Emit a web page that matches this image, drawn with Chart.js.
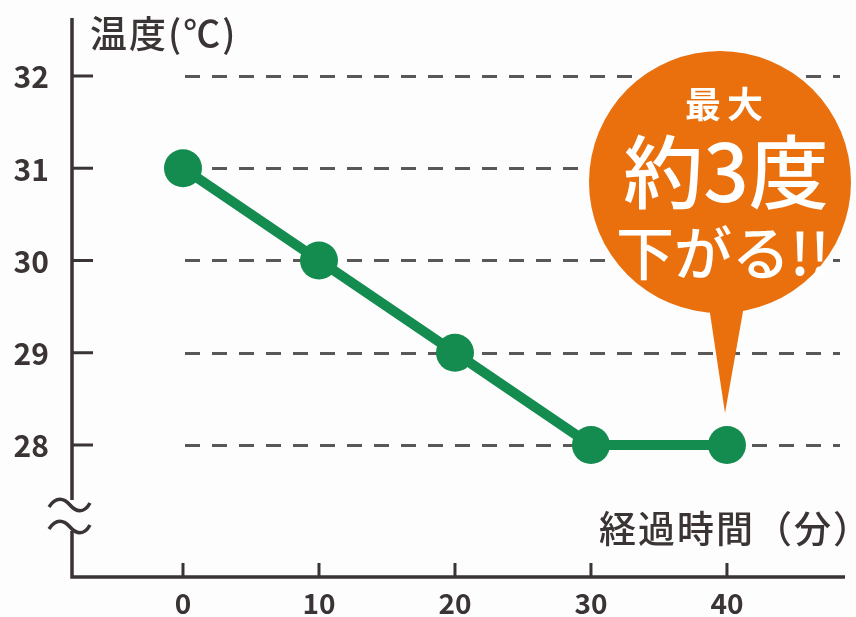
<!DOCTYPE html>
<html>
<head>
<meta charset="utf-8">
<script src="https://cdn.jsdelivr.net/npm/chart.js@4/dist/chart.umd.min.js"></script>
<style>
  body { margin: 0; background: #fdfdfd; }
  canvas { display: block; }
</style>
</head>
<body>
<canvas id="tempChart" width="856" height="617"></canvas>
<script>
// data
const minutes = [0, 10, 20, 30, 40];
const temps = [31, 30, 29, 28, 28];
const xTicks = [0, 10, 20, 30, 40];
const yTicks = [28, 29, 30, 31, 32];
const yTitle = '温度(℃)';
const xTitle = '経過時間（分）';
const calloutLines = ['最大', '約3度', '下がる!!'];

const GREEN = '#148b4f';
const ORANGE = '#e9700c';
const INK = '#3b3434';
const FONT = '"Noto Sans CJK JP", "Noto Sans", sans-serif';

// axes, tick labels, dashed guides, axis break, titles and callout
const decor = {
    id: 'decor',
    beforeDatasetsDraw(chart) {
        const { ctx, chartArea: ca, scales: { x, y } } = chart;
        const x0 = x.getPixelForValue(0);
        ctx.save();

        // dashed guide lines
        ctx.strokeStyle = '#5a5757';
        ctx.lineWidth = 3;
        ctx.setLineDash([15, 12]);
        yTicks.forEach(v => {
            const py = Math.round(y.getPixelForValue(v)) + 0.5;
            ctx.beginPath();
            ctx.moveTo(x0 + 2, py);
            ctx.lineTo(ca.right - 5, py);
            ctx.stroke();
        });
        ctx.setLineDash([]);

        // axes
        ctx.strokeStyle = INK;
        ctx.lineWidth = 3.5;
        const ax = ca.left;
        ctx.beginPath();
        ctx.moveTo(ax, 18);
        ctx.lineTo(ax, 500);
        ctx.moveTo(ax, 531);
        ctx.lineTo(ax, ca.bottom);
        ctx.lineTo(ca.right, ca.bottom);
        ctx.stroke();

        // tick marks
        ctx.lineWidth = 3;
        yTicks.forEach(v => {
            const py = y.getPixelForValue(v);
            ctx.beginPath();
            ctx.moveTo(ax, py);
            ctx.lineTo(ax + 21, py);
            ctx.stroke();
        });
        xTicks.forEach(v => {
            const px = x.getPixelForValue(v);
            ctx.beginPath();
            ctx.moveTo(px, ca.bottom);
            ctx.lineTo(px, ca.bottom - 14);
            ctx.stroke();
        });

        // tick labels
        ctx.fillStyle = INK;
        ctx.textBaseline = 'middle';
        ctx.font = `bold 30px ${FONT}`;
        ctx.textAlign = 'right';
        yTicks.forEach(v => ctx.fillText(String(v), 49, y.getPixelForValue(v) + 1));
        ctx.font = `bold 28px ${FONT}`;
        ctx.textAlign = 'center';
        xTicks.forEach(v => ctx.fillText(String(v), x.getPixelForValue(v), 603));

        // axis break (two tildes)
        ctx.lineWidth = 3.5;
        [505, 527].forEach(cy => {
            ctx.beginPath();
            ctx.moveTo(49, cy + 2);
            ctx.bezierCurveTo(56, cy - 9, 64, cy - 7, 70, cy);
            ctx.bezierCurveTo(76, cy + 7, 84, cy + 9, 90, cy - 2);
            ctx.stroke();
        });

        // axis titles
        ctx.font = `500 37px ${FONT}`;
        ctx.textAlign = 'left';
        ctx.letterSpacing = '2px';
        ctx.fillText(yTitle, 90, 34);
        ctx.textAlign = 'right';
        ctx.fillText(xTitle, 872, 529);
        ctx.restore();
    },
    afterDatasetsDraw(chart) {
        const { ctx } = chart;
        const cx = 720, cy = 182, r = 131;
        ctx.save();
        ctx.fillStyle = ORANGE;
        ctx.beginPath();
        ctx.arc(cx, cy, r, 0, Math.PI * 2);
        ctx.fill();
        ctx.beginPath();
        ctx.moveTo(708, 300);
        ctx.lineTo(745, 300);
        ctx.lineTo(725, 413);
        ctx.closePath();
        ctx.fill();

        ctx.fillStyle = '#ffffff';
        ctx.textAlign = 'center';
        ctx.textBaseline = 'middle';
        ctx.letterSpacing = '6px';
        ctx.font = `bold 36px ${FONT}`;
        ctx.fillText(calloutLines[0], 727, 104);
        ctx.letterSpacing = '0px';
        ctx.font = `500 80px ${FONT}`;
        ctx.fillText(calloutLines[1], 726, 172);
        ctx.font = `500 58px ${FONT}`;
        ctx.fillText(calloutLines[2], 723, 253);
        ctx.restore();
    }
};

new Chart(document.getElementById('tempChart'), {
    type: 'line',
    data: {
        datasets: [{
            data: minutes.map((m, i) => ({ x: m, y: temps[i] })),
            borderColor: GREEN,
            backgroundColor: GREEN,
            borderWidth: 10,
            pointRadius: 19,
            pointHoverRadius: 19,
            pointBorderWidth: 0,
            tension: 0,
            clip: false
        }]
    },
    options: {
        responsive: false,
        animation: false,
        layout: { autoPadding: false, padding: { top: 15, right: 11, left: 0, bottom: 0 } },
        plugins: { legend: { display: false }, tooltip: { enabled: false } },
        scales: {
            x: {
                type: 'linear',
                min: -8.162,
                max: 48.68,
                afterFit: s => { s.height = 40; },
                grid: { display: false, drawTicks: false },
                border: { display: false },
                ticks: { display: false }
            },
            y: {
                min: 26.569,
                max: 32.661,
                afterFit: s => { s.width = 72; },
                grid: { display: false, drawTicks: false },
                border: { display: false },
                ticks: { display: false }
            }
        }
    },
    plugins: [decor]
});
</script>
</body>
</html>
